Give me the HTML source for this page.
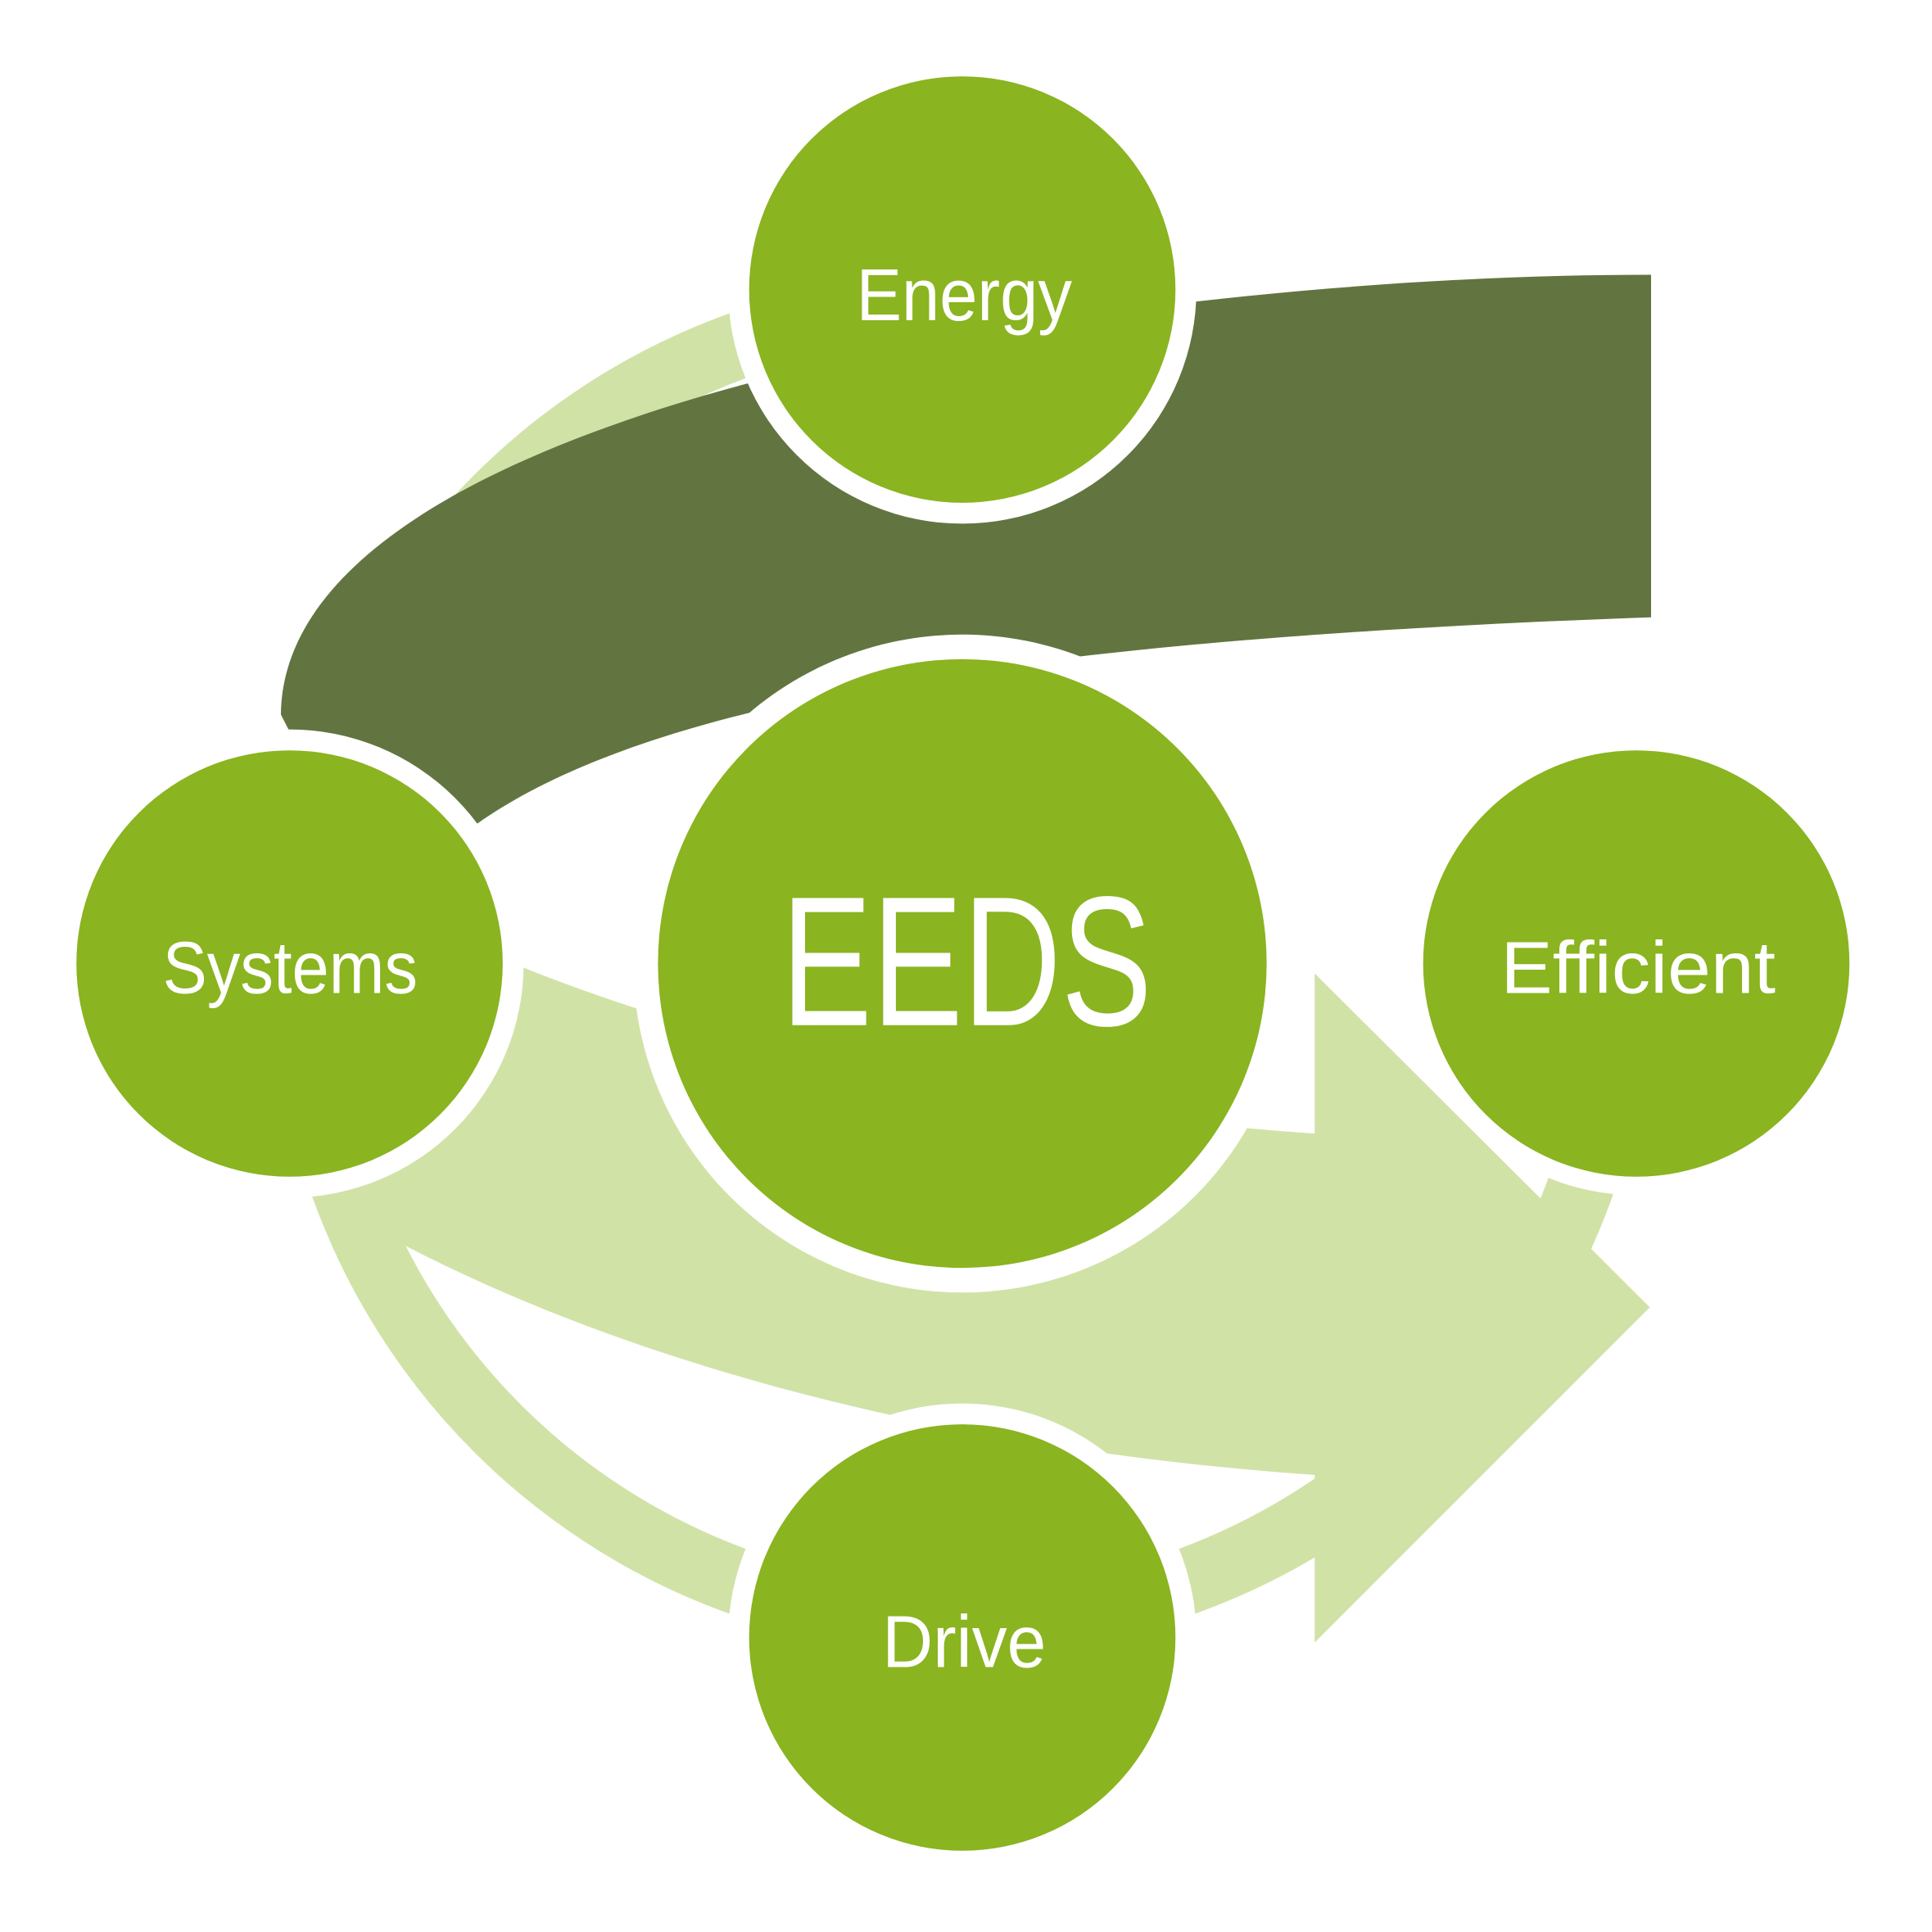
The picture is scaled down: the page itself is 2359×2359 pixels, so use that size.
<!DOCTYPE html>
<html><head><meta charset="utf-8"><style>
html,body{margin:0;padding:0;background:#fff;}
svg{display:block;}
text{font-family:"Liberation Sans",sans-serif;fill:#fff;}
</style></head><body>
<svg width="2359" height="2359" viewBox="0 0 1568 1568" xmlns="http://www.w3.org/2000/svg">
<rect width="1568" height="1568" fill="#fff"/>
<!-- light ring -->
<path d="M1314.5,782 A533.5,533.5 0 1 1 781,248.5" fill="none" stroke="#d1e2a7" stroke-width="54"/>
<!-- dark band -->
<path d="M1340,223 C900,223 230,330 228,580 L300,720 L388,668 C520,575 800,520 1340,501 Z" fill="#627540"/>
<!-- light arrow -->
<path d="M400,775 C600,860 850,905 1067,920 L1067,790 L1339,1061 L1067,1333 L1067,1197 C750,1175 500,1100 327,1010 L290,960 Z" fill="#d1e2a7"/>
<!-- halos -->
<g fill="#fff">
<circle cx="781" cy="235" r="190"/>
<circle cx="235" cy="782" r="190"/>
<circle cx="1328" cy="782" r="188"/>
<circle cx="781" cy="1329" r="190"/>
<circle cx="781" cy="782" r="267"/>
</g>
<g fill="#8ab420">
<circle cx="781" cy="235" r="173"/>
<circle cx="235" cy="782" r="173"/>
<circle cx="1328" cy="782" r="173"/>
<circle cx="781" cy="1329" r="173"/>
<circle cx="781" cy="782" r="247"/>
</g>
<text x="695" y="260" font-size="60" textLength="175" lengthAdjust="spacingAndGlyphs">Energy</text>
<text x="132" y="806" font-size="60" textLength="207" lengthAdjust="spacingAndGlyphs">Systems</text>
<text x="1218" y="806" font-size="60" textLength="223" lengthAdjust="spacingAndGlyphs">Efficient</text>
<text x="716" y="1353" font-size="60" textLength="133" lengthAdjust="spacingAndGlyphs">Drive</text>
<text x="634" y="832" font-size="150" textLength="301" lengthAdjust="spacingAndGlyphs">EEDS</text>
</svg>
</body></html>
